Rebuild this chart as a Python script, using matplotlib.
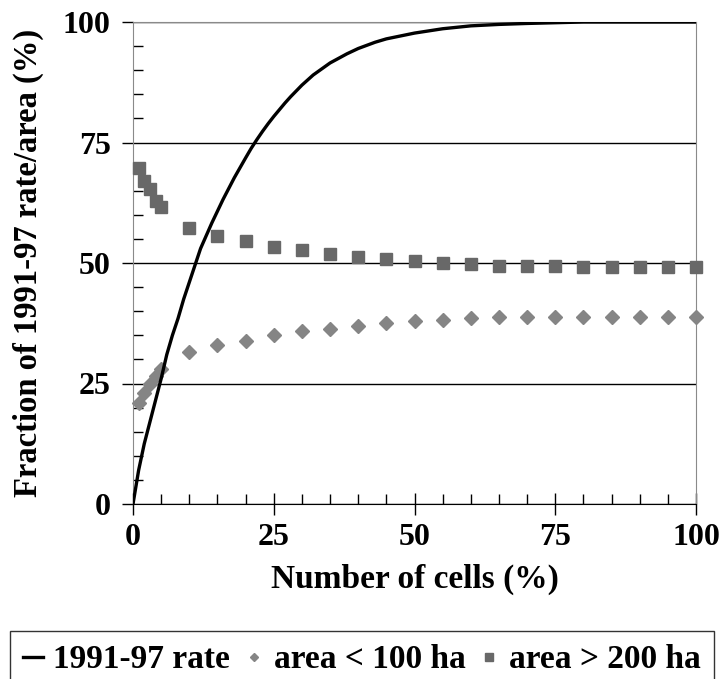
import matplotlib
matplotlib.use('Agg')
import matplotlib.pyplot as plt
from matplotlib.ticker import MultipleLocator

# cumulative share of the 1991-97 rate vs share of cells
rate_x = [0, 1, 2, 3, 4, 5, 6, 7, 8, 9, 10, 12, 14, 16, 18, 20, 21, 22, 23, 24,
          25, 27, 28, 30, 32, 35, 38, 40, 43, 45, 50, 55, 60, 65, 70, 75, 80,
          90, 100]
rate_y = [0, 7, 12.5, 17, 21.5, 26, 31, 35, 38.5, 42.5, 46, 53, 58.3, 63.2, 67.7,
          71.8, 73.8, 75.6, 77.3, 78.9, 80.4, 83.2, 84.5, 86.9, 89.0, 91.5, 93.4,
          94.5, 95.8, 96.5, 97.7, 98.6, 99.2, 99.5, 99.7, 99.85, 100, 100, 100]

pts_x = [1, 2, 3, 4, 5, 10, 15, 20, 25, 30, 35, 40, 45, 50, 55, 60, 65, 70, 75,
         80, 85, 90, 95, 100]
small_area = [20.9, 23.1, 24.8, 26.6, 28.0, 31.5, 32.9, 33.9, 35.0, 35.8, 36.3,
              37.0, 37.5, 38.0, 38.2, 38.5, 38.7, 38.7, 38.9, 38.8, 38.8, 38.9,
              38.9, 38.9]
large_area = [69.7, 67.0, 65.4, 62.8, 61.6, 57.3, 55.7, 54.6, 53.3, 52.6, 51.8,
              51.3, 50.8, 50.4, 49.9, 49.7, 49.4, 49.4, 49.4, 49.2, 49.2, 49.2,
              49.2, 49.2]

plt.rcParams['font.family'] = 'Liberation Serif'
plt.rcParams['font.weight'] = 'bold'

fig = plt.figure(figsize=(7.24, 6.79), dpi=100)
ax = fig.add_axes([133 / 724, 1 - 504 / 679, (696 - 133) / 724, (504 - 22) / 679])

ax.plot(rate_x, rate_y, color='black', lw=2.4, label='1991-97 rate', zorder=4,
        solid_joinstyle='round')
ax.plot(pts_x, small_area, ls='none', marker='D', ms=7.5, color='#858585',
        label='area < 100 ha', clip_on=False, zorder=3)
ax.plot(pts_x, large_area, ls='none', marker='s', ms=9, color='#686868',
        label='area > 200 ha', clip_on=False, zorder=3)

ax.set_xlim(0, 100)
ax.set_ylim(0, 100)
ax.xaxis.set_major_locator(MultipleLocator(25))
ax.xaxis.set_minor_locator(MultipleLocator(5))
ax.yaxis.set_major_locator(MultipleLocator(25))
ax.yaxis.set_minor_locator(MultipleLocator(5))

ax.grid(True, axis='y', which='major', color='black', lw=1)
ax.set_axisbelow(True)

for side in ['left', 'top', 'right']:
    ax.spines[side].set_color('#8a8a8a')
ax.spines['bottom'].set_color('black')

ax.tick_params(axis='x', which='major', direction='inout', length=16, width=1,
               color='black', labelsize=23, pad=6)
ax.tick_params(axis='x', which='minor', direction='in', length=7, width=1,
               color='black')
ax.tick_params(axis='y', which='major', direction='out', length=8, width=1,
               color='black', labelsize=23, pad=8)
ax.tick_params(axis='y', which='minor', direction='in', length=7, width=1,
               color='black')

ax.set_xlabel('Number of cells (%)', fontsize=24, fontweight='bold', labelpad=8)
ax.set_ylabel('Fraction of 1991-97 rate/area (%)', fontsize=23.5,
              fontweight='bold')
ax.yaxis.set_label_coords(-0.158, 0.5)

leg = fig.legend(loc='upper center', bbox_to_anchor=(0.5, 1 - 631 / 679), ncol=3,
                 fontsize=24, frameon=True, fancybox=False, edgecolor='black',
                 handlelength=0.6, handletextpad=0.3, columnspacing=0.4,
                 markerscale=0.6, borderpad=0.4, borderaxespad=0)
leg.get_frame().set_linewidth(1.0)

fig.savefig('out.png', dpi=100)
